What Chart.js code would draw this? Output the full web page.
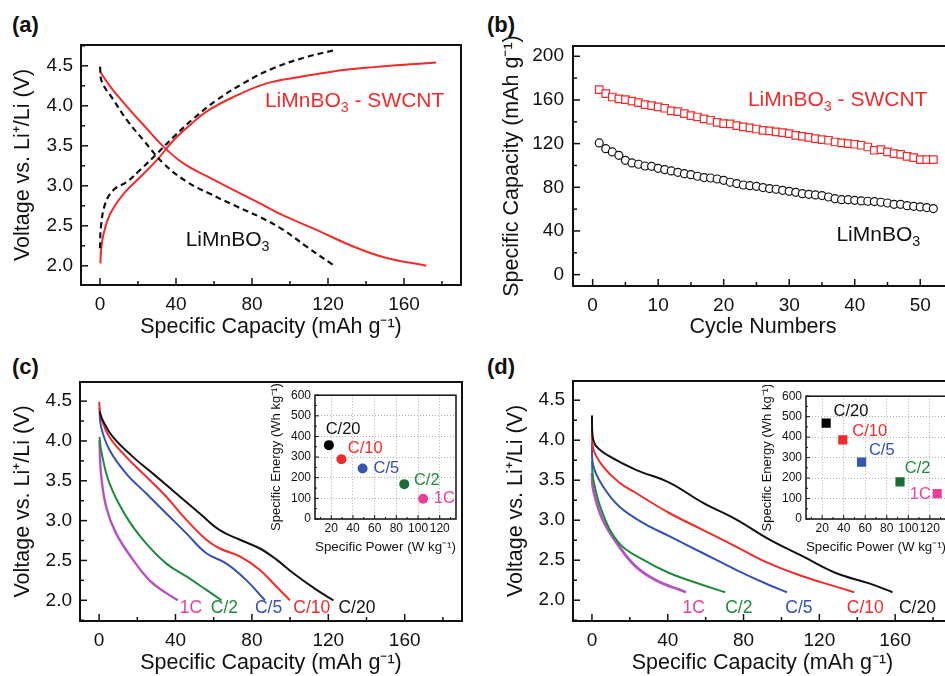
<!DOCTYPE html>
<html>
<head>
<meta charset="utf-8">
<script src="https://cdn.jsdelivr.net/npm/chart.js@4.4.0/dist/chart.umd.min.js"></script>
<style>
body { margin: 0; background: #fff; width: 945px; height: 676px; overflow: hidden; position: relative; }
canvas { position: absolute; }
.tag { position: absolute; font: bold 22px "Liberation Sans", Arial, sans-serif; color: #111; line-height: 22px; }
</style>
</head>
<body>
<div class="tag" style="left:12px;top:14px">(a)</div>
<div class="tag" style="left:487px;top:14px">(b)</div>
<div class="tag" style="left:12px;top:356px">(c)</div>
<div class="tag" style="left:487px;top:356px">(d)</div>
<canvas id="chartA" width="470" height="340" style="left:0;top:0"></canvas>
<canvas id="chartB" width="490" height="340" style="left:470px;top:0"></canvas>
<canvas id="chartC" width="470" height="336" style="left:0;top:340px"></canvas>
<canvas id="chartD" width="490" height="336" style="left:470px;top:340px"></canvas>
<canvas id="insetC" width="195" height="176" style="left:268px;top:384px"></canvas>
<canvas id="insetD" width="200" height="175" style="left:760px;top:385px"></canvas>
<script>
// ---- (a) first charge / discharge, C/20
var swcntChargeCap = [0.2, 0.6, 1.9, 5.4, 12.4, 21.2, 29.9, 38.7, 47.4, 56.2, 70.2, 87.7, 105, 122.7, 140, 157.7, 176.9]
var swcntChargeV = [2.03, 2.2, 2.40, 2.65, 2.90, 3.11, 3.32, 3.57, 3.76, 3.93, 4.11, 4.28, 4.36, 4.43, 4.475, 4.51, 4.54]
var swcntDischCap = [0.2, 5.4, 14.2, 22.9, 33.4, 43.9, 56.2, 70.2, 84.2, 96.4, 113.9, 131.4, 148.9, 171.7]
var swcntDischV = [4.42, 4.24, 3.99, 3.76, 3.49, 3.28, 3.12, 2.95, 2.78, 2.63, 2.45, 2.26, 2.11, 2.0]
var bareChargeCap = [0, 0.5, 2.8, 7.2, 14.2, 21.2, 29.9, 38.7, 49.2, 61.4, 75.4, 91.2, 108.7, 124.4]
var bareChargeV = [2.22, 2.49, 2.78, 2.95, 3.05, 3.20, 3.40, 3.61, 3.84, 4.07, 4.28, 4.47, 4.61, 4.70]
var bareDischCap = [0, 1.0, 7.2, 14.2, 22.9, 33.4, 45.7, 57.9, 70.2, 84.2, 96.4, 108.7, 122.7]
var bareDischV = [4.49, 4.30, 4.07, 3.82, 3.57, 3.28, 3.05, 2.90, 2.76, 2.61, 2.45, 2.24, 2.01]

// ---- (b) cycling
var cycles = [1, 2, 3, 4, 5, 6, 7, 8, 9, 10, 11, 12, 13, 14, 15, 16, 17, 18, 19, 20, 21, 22, 23, 24, 25, 26,
    27, 28, 29, 30, 31, 32, 33, 34, 35, 36, 37, 38, 39, 40, 41, 42, 43, 44, 45, 46, 47, 48, 49, 50, 51, 52]
var swcntCycleCap = [169.5, 165.8, 162.7, 160.9, 160.3, 159, 157.6, 155.7, 154.8, 153.6, 152.4, 149.9, 149.3,
    147.5, 145.6, 144.4, 142.6, 141.4, 139.5, 138.3, 138, 136.5, 135.3, 134.4, 133.4, 132.2, 131.6, 130.7,
    130.1, 129.2, 127.6, 126.7, 125.8, 124.6, 123.7, 123.1, 121.5, 120.6, 120, 119.4, 118.5, 116.9, 113.9,
    114.5, 112.4, 110.8, 110.2, 108.4, 107.2, 105.3, 105.3, 105.3]
var bareCycleCap = [120.6, 115.4, 112.4, 109.3, 104.7, 102.3, 101.1, 99.5, 99.2, 97.4, 96.2, 95, 93.7, 92.5,
    91.6, 90.1, 88.9, 88.5, 87.6, 86.4, 84.6, 83.4, 82.1, 81.5, 80.9, 79.7, 78.8, 78.2, 77.2, 76.3, 75.4,
    74.2, 73.6, 73, 72.4, 71.1, 69.6, 68.7, 68.7, 68.1, 67.5, 67.2, 66.9, 66.3, 65.6, 64.4, 64.4, 63.2,
    62.6, 62, 61.4, 60.5]

// ---- (c) bare LiMnBO3 at different rates
var rates = ['C/20', 'C/10', 'C/5', 'C/2', '1C']
var rateColors = ['#111111', '#f42a2a', '#3550b4', '#1d8a3c', '#b552c2']
var rateLabelColors = ['#111111', '#f42a2a', '#3550b4', '#1d8a3c', '#e83ea0']
var insetColors = ['#000000', '#f02a2a', '#3556b0', '#1a6e35', '#e8409a']
var cRateCap = [
    [0.2, 1.9, 7.2, 17.7, 28.2, 40.4, 52.7, 63.2, 73.7, 84.2, 92.9, 101.7, 113.9, 122.7],
    [0, 1, 5.4, 14.2, 24.7, 35.2, 45.7, 56.2, 63.2, 73.7, 84.2, 92.9, 99.9],
    [0.2, 1, 5.4, 14.2, 24.7, 35.2, 45.7, 56.2, 66.7, 77.2, 86.8],
    [0.2, 1, 5.4, 14.2, 24.7, 35.2, 45.7, 56.2, 64.1],
    [0.2, 1, 3.7, 8.9, 17.7, 26.4, 35.2, 41.3]
]
var cRateV = [
    [4.37, 4.26, 4.05, 3.80, 3.59, 3.34, 3.09, 2.88, 2.76, 2.65, 2.51, 2.34, 2.13, 2.0],
    [4.49, 4.30, 4.05, 3.80, 3.55, 3.30, 3.01, 2.76, 2.65, 2.55, 2.38, 2.17, 2.0],
    [4.41, 4.18, 3.89, 3.59, 3.34, 3.09, 2.84, 2.59, 2.46, 2.25, 2.0],
    [4.05, 3.89, 3.47, 3.05, 2.71, 2.46, 2.30, 2.13, 2.0],
    [4.01, 3.59, 3.17, 2.84, 2.51, 2.25, 2.09, 2.0]
]
var cPower = [17.8, 29.4, 48.9, 87.3, 104.7]
var cEnergy = [358, 290, 245, 169, 98]

// ---- (d) LiMnBO3-SWCNT at different rates
var dRateCap = [
    [0, 0.35, 2.1, 9.1, 23.2, 40.8, 58.4, 76, 93.5, 111.1, 128.7, 146.3, 158.6],
    [0, 0.7, 5.6, 14.4, 23.2, 40.8, 58.4, 76, 93.5, 111.1, 128.7, 138.4],
    [0, 0.7, 5.6, 14.4, 26.7, 40.8, 58.4, 76, 93.5, 102.9],
    [0, 0.7, 5.6, 14.4, 26.7, 40.8, 58.4, 70.3],
    [0, 0.7, 5.6, 14.4, 23.2, 33.8, 49.6]
]
var dRateV = [
    [4.31, 4.05, 3.93, 3.80, 3.63, 3.47, 3.22, 3.01, 2.76, 2.55, 2.34, 2.21, 2.10],
    [4.14, 3.89, 3.68, 3.47, 3.34, 3.09, 2.88, 2.67, 2.46, 2.30, 2.17, 2.10],
    [3.97, 3.68, 3.43, 3.17, 2.97, 2.80, 2.59, 2.38, 2.19, 2.10],
    [3.74, 3.51, 3.09, 2.71, 2.51, 2.34, 2.19, 2.10],
    [3.59, 3.38, 3.01, 2.67, 2.42, 2.25, 2.10]
]
var dPower = [23.7, 39.2, 56.6, 92.3, 126.8]
var dEnergy = [468, 387, 278, 181, 124]

// ---- tick labels
var capTicks = [0, 40, 80, 120, 160]
var voltTicks = [2.0, 2.5, 3.0, 3.5, 4.0, 4.5]
var cycleTicks = [0, 10, 20, 30, 40, 50]
var cycleCapTicks = [0, 40, 80, 120, 160, 200]
var powerTicks = [20, 40, 60, 80, 100, 120]
var energyTicks = [0, 100, 200, 300, 400, 500, 600]

var FONT = '"Liberation Sans", Arial, sans-serif'
Chart.defaults.font.family = FONT
Chart.defaults.color = '#111'
Chart.defaults.animation = false

// frame + inward ticks on left and bottom axes
var inTicks = {
    id: 'inTicks',
    afterDraw: function (chart, args, opts) {
        var ctx = chart.ctx
        var area = chart.chartArea
        var xs = chart.scales.x, ys = chart.scales.y
        ctx.save()
        ctx.strokeStyle = '#111'
        ctx.lineWidth = opts.width
        function marks(scale, step, len, horizontal) {
            var majors = scale.ticks.map(t => t.value)
            var list = majors.map(v => [v, len])
            if (step) {
                for (var v = Math.ceil(scale.min / step) * step; v <= scale.max + 1e-9; v += step) {
                    if (!majors.some(m => Math.abs(m - v) < 1e-6)) list.push([v, opts.minorLen])
                }
            }
            list.forEach(function (m) {
                var p = scale.getPixelForValue(m[0])
                ctx.beginPath()
                if (horizontal) {
                    ctx.moveTo(p, area.bottom)
                    ctx.lineTo(p, area.bottom - m[1])
                } else {
                    ctx.moveTo(area.left, p)
                    ctx.lineTo(area.left + m[1], p)
                }
                ctx.stroke()
            })
        }
        marks(xs, opts.xMinor, opts.len, true)
        marks(ys, opts.yMinor, opts.len, false)
        ctx.lineWidth = opts.frame
        ctx.strokeRect(area.left, area.top, area.right - area.left, area.bottom - area.top)
        ctx.restore()
    }
}

// text with subscripts placed at data coordinates; "_3" means subscript 3
var richLabels = {
    id: 'richLabels',
    afterDatasetsDraw: function (chart, args, opts) {
        var ctx = chart.ctx
        ;(opts.items || []).forEach(function (item) {
            var x = chart.scales.x.getPixelForValue(item.x)
            var y = chart.scales.y.getPixelForValue(item.y)
            ctx.save()
            ctx.fillStyle = item.color
            ctx.textAlign = 'left'
            ctx.textBaseline = 'alphabetic'
            item.parts.forEach(function (part) {
                var sub = part[0] === '_'
                var txt = sub ? part.slice(1) : part
                var size = sub ? item.size * 0.68 : item.size
                ctx.font = size + 'px ' + FONT
                ctx.fillText(txt, x, y + (sub ? item.size * 0.24 : 0))
                x += ctx.measureText(txt).width
            })
            ctx.restore()
        })
    }
}

function pts(xs, ys) {
    return xs.map((x, i) => ({x: x, y: ys[i]}))
}

function curve(xs, ys, color, dash, width) {
    return {
        data: pts(xs, ys), showLine: true, borderColor: color, borderWidth: width || 2,
        borderDash: dash || [], pointRadius: 0, tension: 0.4, fill: false
    }
}

function axis(o) {
    return {
        type: 'linear', min: o.min, max: o.max,
        afterBuildTicks: function (s) { s.ticks = o.ticks.map(v => ({value: v})) },
        afterFit: function (s) { if (s.isHorizontal()) s.height = o.size; else s.width = o.size },
        grid: o.grid || {display: false, drawTicks: false},
        border: o.border || {display: false},
        ticks: {padding: o.pad, color: '#111', font: {size: o.font}, maxRotation: 0, autoSkip: false,
            callback: o.fmt || (v => String(v))},
        title: {display: true, text: o.title, color: '#111', font: {size: o.titleSize}, padding: o.titlePad}
    }
}

function makeChart(id, datasets, x, y, pad, ticksOpts, labels) {
    return new Chart(document.getElementById(id), {
        type: 'scatter',
        data: {datasets: datasets},
        options: {
            responsive: false,
            layout: {padding: pad},
            scales: {x: x, y: y},
            plugins: {
                legend: {display: false}, tooltip: {enabled: false},
                inTicks: ticksOpts,
                richLabels: {items: labels}
            }
        },
        plugins: [inTicks, richLabels]
    })
}

var volt = v => v.toFixed(1)
var capTitle = 'Specific Capacity (mAh g\u207B\u00B9)'
var voltTitle = 'Voltage vs. Li\u207A/Li (V)'
var mainTicks = {width: 1.5, frame: 2, len: 7, minorLen: 4}

// (a)
makeChart('chartA', [
    curve(bareChargeCap, bareChargeV, '#111', [6, 4], 2.2),
    curve(bareDischCap, bareDischV, '#111', [6, 4], 2.2),
    curve(swcntChargeCap, swcntChargeV, '#f42a2a'),
    curve(swcntDischCap, swcntDischV, '#f42a2a')
],
    axis({min: -10, max: 190, ticks: capTicks, size: 55, pad: 8, font: 19, title: capTitle, titleSize: 21.5, titlePad: {top: 0, bottom: 0}}),
    axis({min: 1.76, max: 4.76, ticks: voltTicks, size: 81, pad: 8, font: 19, fmt: volt, title: voltTitle, titleSize: 21.5, titlePad: {top: 10, bottom: 0}}),
    {top: 45, right: 9, left: 0, bottom: 0},
    Object.assign({xMinor: 20, yMinor: 0.25}, mainTicks),
    [
        {x: 86.8, y: 3.99, color: '#f42a2a', size: 21, parts: ['LiMnBO', '_3', ' - SWCNT']},
        {x: 45.1, y: 2.25, color: '#111', size: 21, parts: ['LiMnBO', '_3']}
    ])

// (b)
makeChart('chartB', [
    {data: pts(cycles, swcntCycleCap), pointStyle: 'rect', pointRadius: 5.3, borderColor: '#f42a2a', backgroundColor: '#fff', borderWidth: 1.2},
    {data: pts(cycles, bareCycleCap), pointStyle: 'circle', pointRadius: 4, borderColor: '#111', backgroundColor: '#fff', borderWidth: 1.2}
],
    axis({min: -3, max: 55, ticks: cycleTicks, size: 54, pad: 8, font: 19, title: 'Cycle Numbers', titleSize: 21.5, titlePad: {top: 0, bottom: 0}}),
    axis({min: -10.4, max: 209.4, ticks: cycleCapTicks, size: 103, pad: 9, font: 19, title: capTitle, titleSize: 21.5, titlePad: {top: 29, bottom: 0}}),
    {top: 46, right: 7, left: 0, bottom: 0},
    Object.assign({xMinor: 5, yMinor: 20}, mainTicks),
    [
        {x: 23.7, y: 154.2, color: '#f42a2a', size: 21, parts: ['LiMnBO', '_3', ' - SWCNT']},
        {x: 37.2, y: 30.8, color: '#111', size: 21, parts: ['LiMnBO', '_3']}
    ])

function rateCurves(caps, volts, widths) {
    return caps.map((c, i) => curve(c, volts[i], rateColors[i], null, widths[i]))
}

function rateLabels(xs) {
    return xs.map((x, i) => ({x: x, y: 1.845, color: rateLabelColors[i], size: 17.5, parts: [rates[i]]}))
}

// (c)
makeChart('chartC', rateCurves(cRateCap, cRateV, [2, 2, 2, 2, 2.4]),
    axis({min: -10, max: 190, ticks: capTicks, size: 55, pad: 8, font: 19, title: capTitle, titleSize: 21.5, titlePad: {top: 0, bottom: 0}}),
    axis({min: 1.74, max: 4.74, ticks: voltTicks, size: 80, pad: 8, font: 19, fmt: volt, title: voltTitle, titleSize: 21.5, titlePad: {top: 10, bottom: 0}}),
    {top: 42, right: 8, left: 0, bottom: 0},
    Object.assign({xMinor: 20, yMinor: 0.25}, mainTicks),
    rateLabels([125.3, 101.7, 81.6, 58.5, 42.2]))

// (d)
makeChart('chartD', rateCurves(dRateCap, dRateV, [2, 2, 2, 2, 2.8]),
    axis({min: -10, max: 190, ticks: capTicks, size: 55, pad: 8, font: 19, title: capTitle, titleSize: 21.5, titlePad: {top: 0, bottom: 0}}),
    axis({min: 1.74, max: 4.74, ticks: voltTicks, size: 103, pad: 8, font: 19, fmt: volt, title: voltTitle, titleSize: 21.5, titlePad: {top: 33, bottom: 0}}),
    {top: 41, right: 8, left: 0, bottom: 0},
    Object.assign({xMinor: 20, yMinor: 0.25}, mainTicks),
    rateLabels([162, 134.5, 102, 70.3, 47.8]))

// insets: specific energy vs specific power
var insetGrid = {display: true, drawTicks: false, color: '#9a9a9a', lineWidth: 0.8}
var insetBorder = {display: false, dash: [1, 2]}
var insetTicks = {width: 1, frame: 1.5, len: 4, minorLen: 2, xMinor: 10, yMinor: 50}

function insetPoints(power, energy, style, radius) {
    return power.map((p, i) => ({
        data: [{x: p, y: energy[i]}], pointStyle: style, pointRadius: radius,
        backgroundColor: insetColors[i], borderColor: insetColors[i], borderWidth: 0
    }))
}

function insetLabels(xs, ys) {
    return xs.map((x, i) => ({x: x, y: ys[i], color: rateLabelColors[i], size: 16.5, parts: [rates[i]]}))
}

makeChart('insetC', insetPoints(cPower, cEnergy, 'circle', 5),
    axis({min: 5, max: 135, ticks: powerTicks, size: 41, pad: 2, font: 12, grid: insetGrid, border: insetBorder,
        title: 'Specific Power (W kg\u207B\u00B9)', titleSize: 13.5, titlePad: {top: 0, bottom: 5}}),
    axis({min: 0, max: 600, ticks: energyTicks, size: 47, pad: 4, font: 12, grid: insetGrid, border: insetBorder,
        title: 'Specific Energy (Wh kg\u207B\u00B9)', titleSize: 13, titlePad: {top: 1, bottom: 0}}),
    {top: 8, right: 7, left: 0, bottom: 0},
    insetTicks,
    insetLabels([14.8, 35.2, 59, 96.2, 114.5], [413, 319, 224, 164, 77]))

makeChart('insetD', insetPoints(dPower, dEnergy, 'rect', 6.5),
    axis({min: 5, max: 135, ticks: powerTicks, size: 41, pad: 2, font: 12, grid: insetGrid, border: insetBorder,
        title: 'Specific Power (W kg\u207B\u00B9)', titleSize: 13.5, titlePad: {top: 0, bottom: 5}}),
    axis({min: 0, max: 600, ticks: energyTicks, size: 46, pad: 4, font: 12, grid: insetGrid, border: insetBorder,
        title: 'Specific Energy (Wh kg\u207B\u00B9)', titleSize: 13, titlePad: {top: 0, bottom: 0}}),
    {top: 8, right: 14, left: 0, bottom: 0},
    insetTicks,
    insetLabels([30.5, 48, 63.4, 96.7, 101.4], [501, 406, 314, 227, 100]))
</script>
</body>
</html>
